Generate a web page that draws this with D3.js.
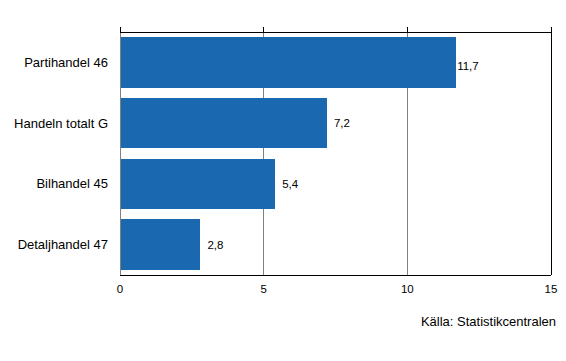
<!DOCTYPE html>
<html><head><meta charset="utf-8">
<script src="https://cdn.jsdelivr.net/npm/d3@7"></script>
<style>body{margin:0;background:#fff}svg{display:block;font-family:"Liberation Sans",Arial,sans-serif}</style>
</head><body>
<svg id="c" width="566" height="361"></svg>
<script>
const categories = ["Partihandel 46", "Handeln totalt G", "Bilhandel 45", "Detaljhandel 47"];
const values = [11.7, 7.2, 5.4, 2.8];
const valueLabels = ["11,7", "7,2", "5,4", "2,8"];
const xTicks = [0, 5, 10, 15];
const source = "Källa: Statistikcentralen";

const svg = d3.select("#c");
const L = 120, R = 551, T = 32, B = 275;
const x = d3.scaleLinear().domain([0, 15]).range([L, R]);
const y = d3.scaleBand().domain(categories).range([T, B]).paddingInner(0.17).paddingOuter(0.085);

// gridlines
svg.append("g").selectAll("line").data([5, 10]).join("line")
  .attr("x1", d => x(d)).attr("x2", d => x(d)).attr("y1", T).attr("y2", B)
  .attr("stroke", "#808080").attr("stroke-width", 1).attr("shape-rendering", "crispEdges");

// bars
svg.append("g").selectAll("rect").data(values).join("rect")
  .attr("x", x(0)).attr("y", (d, i) => y(categories[i]))
  .attr("width", d => x(d) - x(0)).attr("height", y.bandwidth())
  .attr("fill", "#1a68b0").attr("shape-rendering", "crispEdges");

// frame
const fr = svg.append("g").attr("shape-rendering", "crispEdges");
fr.append("line").attr("x1", L).attr("x2", L).attr("y1", T).attr("y2", B).attr("stroke", "#808080");
fr.append("line").attr("x1", L).attr("x2", R).attr("y1", T).attr("y2", T).attr("stroke", "#000");
fr.append("line").attr("x1", R).attr("x2", R).attr("y1", T).attr("y2", B).attr("stroke", "#000");
fr.append("line").attr("x1", L).attr("x2", R).attr("y1", B).attr("y2", B).attr("stroke", "#000");

// top ticks
fr.selectAll(".tk").data(xTicks).join("line")
  .attr("x1", d => x(d)).attr("x2", d => x(d)).attr("y1", T - 5).attr("y2", T)
  .attr("stroke", "#000");

// bottom axis labels
svg.append("g").selectAll("text").data(xTicks).join("text")
  .attr("x", d => x(d)).attr("y", 293).attr("text-anchor", "middle")
  .attr("font-size", 11.5).attr("fill", "#000").text(d => d);

// category labels
svg.append("g").selectAll("text").data(categories).join("text")
  .attr("x", 108).attr("y", d => y(d) + y.bandwidth() / 2 + 4.5)
  .attr("text-anchor", "end").attr("font-size", 13).attr("fill", "#000").text(d => d);

// value labels (long bars get a tight, slightly lowered label)
svg.append("g").selectAll("text").data(values).join("text")
  .attr("x", d => x(d) + (d >= 10 ? 1 : 7))
  .attr("y", (d, i) => y(categories[i]) + y.bandwidth() / 2 + (d >= 10 ? 7.5 : 4))
  .attr("font-size", 11.5).attr("fill", "#000").text((d, i) => valueLabels[i]);

svg.append("text").attr("x", 556).attr("y", 326).attr("text-anchor", "end")
  .attr("font-size", 13).attr("fill", "#000").text(source);
</script>
</body></html>
